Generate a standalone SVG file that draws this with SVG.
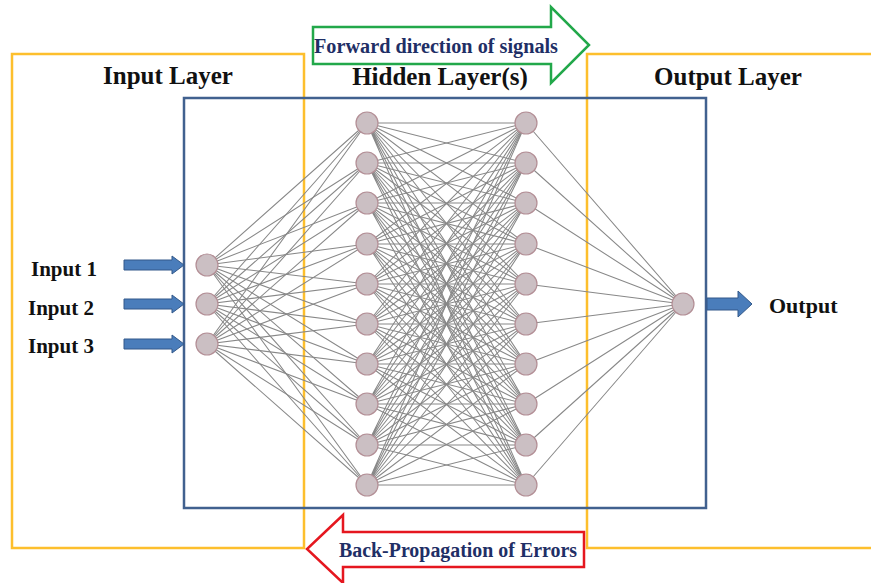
<svg xmlns="http://www.w3.org/2000/svg" width="871" height="583" viewBox="0 0 871 583">
<style>
.yb{fill:none;stroke:#fdbf2d;stroke-width:2.5}
.bb{fill:none;stroke:#41618f;stroke-width:2.5}
.e{fill:none;stroke:#888;stroke-width:1.05}
.n{fill:#cbbfc3;stroke:#b38f96;stroke-width:1.2}
.ba{fill:#4a7dbb;stroke:#33598a;stroke-width:1}
.t{font-family:"Liberation Serif",serif;font-weight:bold;fill:#111}
.s{font-family:"Liberation Serif",serif;font-weight:bold;fill:#1f2f66;font-size:20px}
</style>
<rect width="871" height="583" fill="#fff"/>
<g id="input-layer-box"><rect class="yb" x="12" y="54" width="292" height="494"/></g>
<g id="output-layer-box"><rect class="yb" x="587" y="54" width="300" height="494"/></g>
<g id="hidden-layer-box"><rect class="bb" x="184" y="98" width="522" height="410"/></g>
<g id="connectors">
<path class="e" d="M207 265L367 123M207 265L367 163M207 265L367 203M207 265L367 244M207 265L367 284M207 265L367 324M207 265L367 364M207 265L367 404M207 265L367 445M207 265L367 485"/>
<path class="e" d="M207 304L367 123M207 304L367 163M207 304L367 203M207 304L367 244M207 304L367 284M207 304L367 324M207 304L367 364M207 304L367 404M207 304L367 445M207 304L367 485"/>
<path class="e" d="M207 344L367 123M207 344L367 163M207 344L367 203M207 344L367 244M207 344L367 284M207 344L367 324M207 344L367 364M207 344L367 404M207 344L367 445M207 344L367 485"/>
<path class="e" d="M367 123L526 123M367 123L526 163M367 123L526 203M367 123L526 244M367 123L526 284M367 123L526 324M367 123L526 364M367 123L526 404M367 123L526 445M367 123L526 485"/>
<path class="e" d="M367 163L526 123M367 163L526 163M367 163L526 203M367 163L526 244M367 163L526 284M367 163L526 324M367 163L526 364M367 163L526 404M367 163L526 445M367 163L526 485"/>
<path class="e" d="M367 203L526 123M367 203L526 163M367 203L526 203M367 203L526 244M367 203L526 284M367 203L526 324M367 203L526 364M367 203L526 404M367 203L526 445M367 203L526 485"/>
<path class="e" d="M367 244L526 123M367 244L526 163M367 244L526 203M367 244L526 244M367 244L526 284M367 244L526 324M367 244L526 364M367 244L526 404M367 244L526 445M367 244L526 485"/>
<path class="e" d="M367 284L526 123M367 284L526 163M367 284L526 203M367 284L526 244M367 284L526 284M367 284L526 324M367 284L526 364M367 284L526 404M367 284L526 445M367 284L526 485"/>
<path class="e" d="M367 324L526 123M367 324L526 163M367 324L526 203M367 324L526 244M367 324L526 284M367 324L526 324M367 324L526 364M367 324L526 404M367 324L526 445M367 324L526 485"/>
<path class="e" d="M367 364L526 123M367 364L526 163M367 364L526 203M367 364L526 244M367 364L526 284M367 364L526 324M367 364L526 364M367 364L526 404M367 364L526 445M367 364L526 485"/>
<path class="e" d="M367 404L526 123M367 404L526 163M367 404L526 203M367 404L526 244M367 404L526 284M367 404L526 324M367 404L526 364M367 404L526 404M367 404L526 445M367 404L526 485"/>
<path class="e" d="M367 445L526 123M367 445L526 163M367 445L526 203M367 445L526 244M367 445L526 284M367 445L526 324M367 445L526 364M367 445L526 404M367 445L526 445M367 445L526 485"/>
<path class="e" d="M367 485L526 123M367 485L526 163M367 485L526 203M367 485L526 244M367 485L526 284M367 485L526 324M367 485L526 364M367 485L526 404M367 485L526 445M367 485L526 485"/>
<path class="e" d="M526 123L683 304M526 163L683 304M526 203L683 304M526 244L683 304M526 284L683 304M526 324L683 304M526 364L683 304M526 404L683 304M526 445L683 304M526 485L683 304"/>
</g>
<g id="input-nodes">
<circle class="n" cx="207" cy="265" r="11"/><circle class="n" cx="207" cy="304" r="11"/><circle class="n" cx="207" cy="344" r="11"/>
</g>
<g id="hidden-nodes-1">
<circle class="n" cx="367" cy="123" r="11"/><circle class="n" cx="367" cy="163" r="11"/><circle class="n" cx="367" cy="203" r="11"/><circle class="n" cx="367" cy="244" r="11"/><circle class="n" cx="367" cy="284" r="11"/><circle class="n" cx="367" cy="324" r="11"/><circle class="n" cx="367" cy="364" r="11"/><circle class="n" cx="367" cy="404" r="11"/><circle class="n" cx="367" cy="445" r="11"/><circle class="n" cx="367" cy="485" r="11"/>
</g>
<g id="hidden-nodes-2">
<circle class="n" cx="526" cy="123" r="11"/><circle class="n" cx="526" cy="163" r="11"/><circle class="n" cx="526" cy="203" r="11"/><circle class="n" cx="526" cy="244" r="11"/><circle class="n" cx="526" cy="284" r="11"/><circle class="n" cx="526" cy="324" r="11"/><circle class="n" cx="526" cy="364" r="11"/><circle class="n" cx="526" cy="404" r="11"/><circle class="n" cx="526" cy="445" r="11"/><circle class="n" cx="526" cy="485" r="11"/>
</g>
<g id="output-node"><circle class="n" cx="683" cy="304" r="11"/></g>
<g id="input-arrows">
<polygon class="ba" points="124,260 172,260 172,256 184,265 172,274 172,270 124,270"/>
<polygon class="ba" points="124,299 172,299 172,295 184,304 172,313 172,309 124,309"/>
<polygon class="ba" points="124,339 172,339 172,335 184,344 172,353 172,349 124,349"/>
</g>
<g id="output-arrow"><polygon class="ba" points="707,298 738,298 738,291 752,304 738,317 738,310 707,310"/></g>
<g id="forward-arrow">
<polygon points="313,27 551,27 551,7 589,45 551,83 551,64 313,64" fill="#fff" stroke="#22a84a" stroke-width="2.5"/>
<text class="s" x="314" y="53" textLength="244" lengthAdjust="spacingAndGlyphs">Forward direction of signals</text>
</g>
<g id="back-arrow">
<polygon points="584,532 343,532 343,515 307,549 343,583 343,567 584,567" fill="#fff" stroke="#e5171f" stroke-width="2.5"/>
<text class="s" x="339" y="557" textLength="238" lengthAdjust="spacingAndGlyphs">Back-Propagation of Errors</text>
</g>
<g id="labels">
<text class="t" x="168" y="84" font-size="25" text-anchor="middle">Input Layer</text>
<text class="t" x="440" y="85" font-size="25" text-anchor="middle">Hidden Layer(s)</text>
<text class="t" x="728" y="85" font-size="25" text-anchor="middle">Output Layer</text>
<text class="t" x="31" y="276" font-size="21">Input 1</text>
<text class="t" x="28" y="315" font-size="21">Input 2</text>
<text class="t" x="28" y="353" font-size="21">Input 3</text>
<text class="t" x="769" y="313" font-size="22">Output</text>
</g>
</svg>
